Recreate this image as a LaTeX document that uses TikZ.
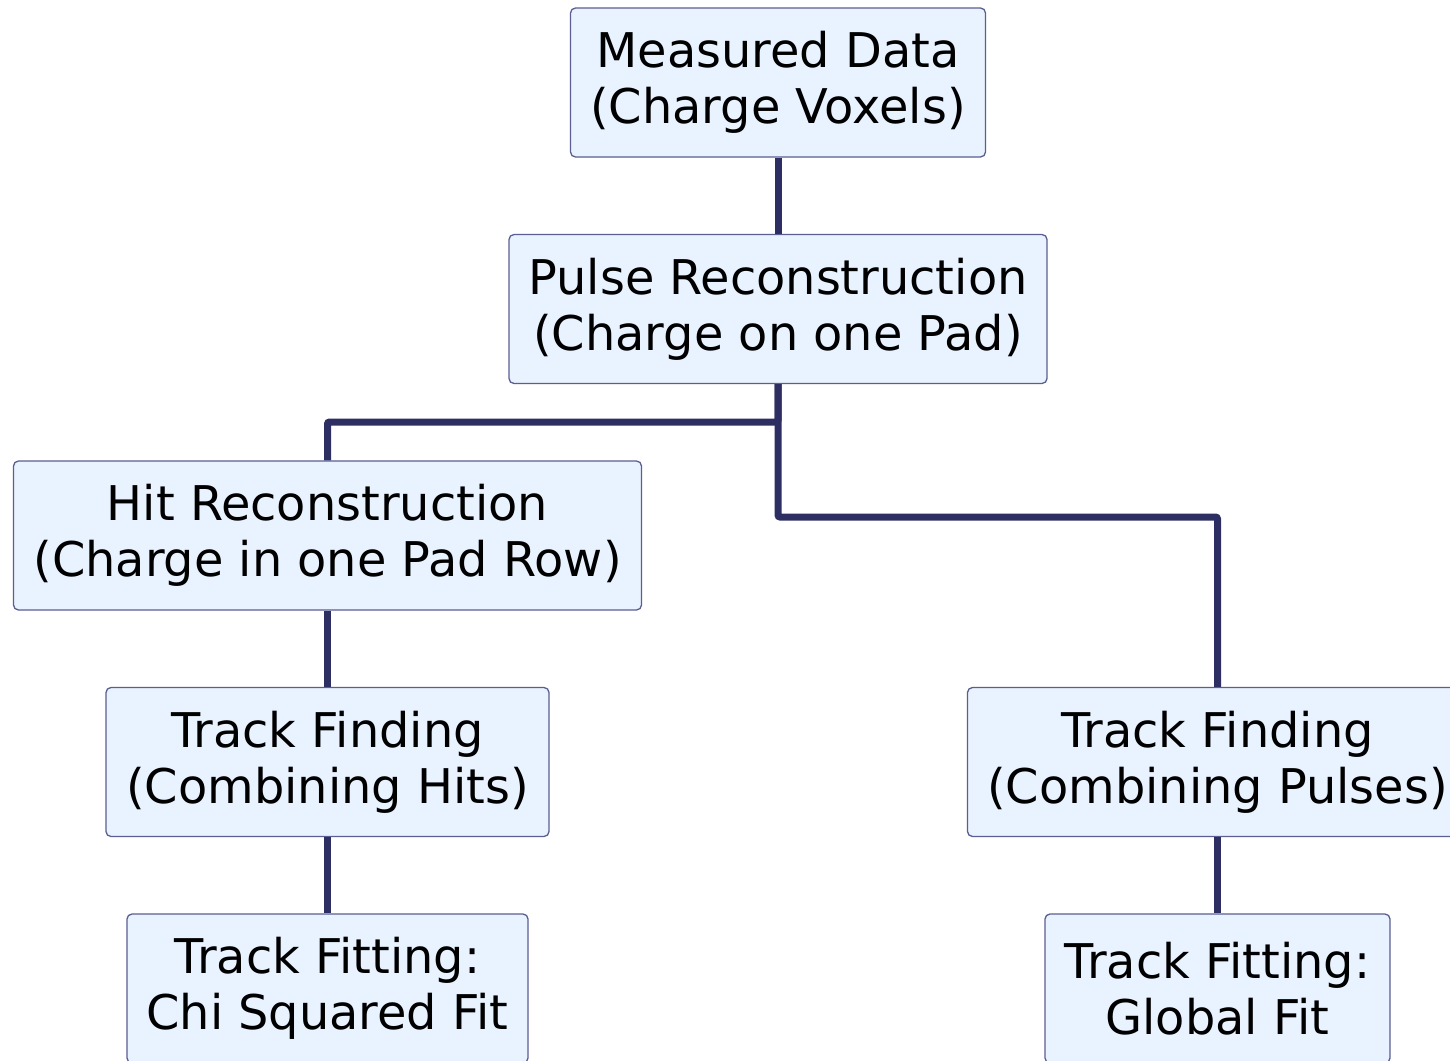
\documentclass[tikz,border=0pt]{standalone}
\usepackage{fontspec}
\setmainfont{DejaVu Sans}
\definecolor{boxfill}{HTML}{E8F3FF}
\definecolor{boxline}{HTML}{5A5E92}
\definecolor{wire}{HTML}{2D2F62}
\begin{document}
\begin{tikzpicture}[x=1bp,y=-1bp,
  stage/.style={draw=boxline, line width=1.3bp, fill=boxfill, rounded corners=5bp,
    align=center, inner sep=0pt, minimum height=149bp,
    font=\fontsize{48}{56.5}\selectfont},
  wireline/.style={draw=wire, line width=7bp, rounded corners=2bp}]
\useasboundingbox (0,0) rectangle (1450,1060);
\node[stage, minimum width=415bp] (md) at (778,82.5) {Measured Data\\(Charge Voxels)};
\node[stage, minimum width=538bp] (pr) at (778,309) {Pulse Reconstruction\\(Charge on one Pad)};
\node[stage, minimum width=628bp] (hr) at (327.5,535.5) {Hit Reconstruction\\(Charge in one Pad Row)};
\node[stage, minimum width=443bp] (tfh) at (327.5,762) {Track Finding\\(Combining Hits)};
\node[stage, minimum width=401bp] (tfc) at (327.5,988.5) {Track Fitting:\\Chi Squared Fit};
\node[stage, minimum width=500bp] (tfp) at (1217.5,762) {Track Finding\\(Combining Pulses)};
\node[stage, minimum width=345bp] (tfg) at (1217.5,988.5) {Track Fitting:\\Global Fit};
\coordinate (j1) at (778,422);
\coordinate (j2) at (778,517);
\path[wireline] (md.south) -- (pr.north);
\path[wireline] (pr.south) -- (j1) -| (hr.north);
\path[wireline] (pr.south) -- (j2) -| (tfp.north);
\path[wireline] (hr.south) -- (tfh.north);
\path[wireline] (tfh.south) -- (tfc.north);
\path[wireline] (tfp.south) -- (tfg.north);
\end{tikzpicture}
\end{document}
